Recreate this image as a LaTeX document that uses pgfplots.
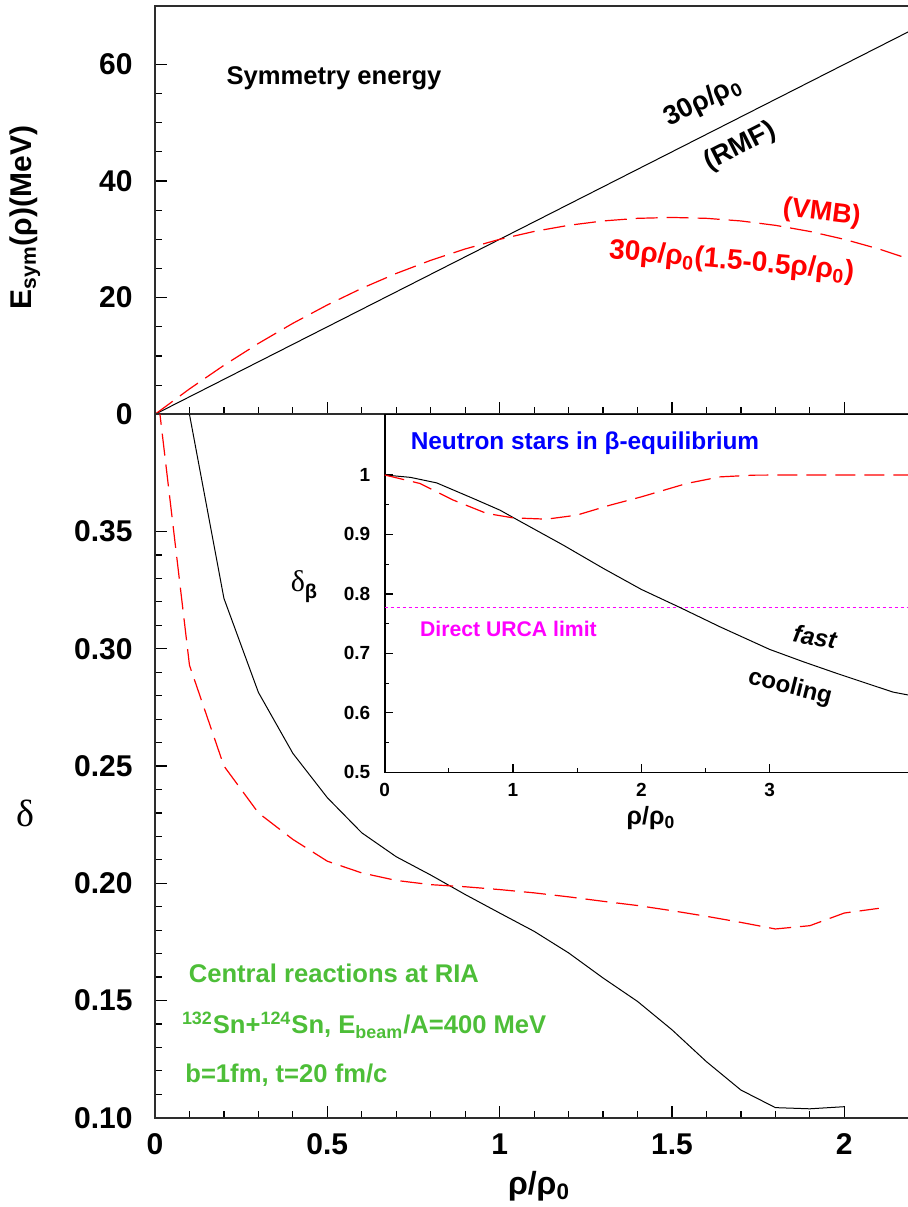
\documentclass[border=0pt]{standalone}
\usepackage{pgfplots}
\pgfplotsset{compat=1.18}
\usepackage{fontspec}
\setmainfont{Liberation Sans}
\newfontfamily\serif{Liberation Serif}
\definecolor{mygreen}{RGB}{77,190,56}
\definecolor{mymag}{RGB}{255,0,255}
\definecolor{myblue}{RGB}{0,0,255}
\definecolor{myred}{RGB}{255,0,0}
\definecolor{axgray}{RGB}{45,45,45}
\newcommand{\fs}[1]{\fontsize{#1}{#1}\selectfont}
\pgfplotsset{
  common/.style={
    scale only axis, anchor=south west,
    tick pos=left, tick align=inside,
    tick style={black, line width=0.6pt},
    axis line style={line width=1pt, draw=axgray},
    /pgf/number format/assume math mode=true,
  },
  main/.style={
    common,
    major tick length=6pt, minor tick length=3.5pt,
    tick label style={font=\bfseries\fs{15}},
    yticklabel style={inner sep=0pt, xshift=-11pt},
    xticklabel style={inner sep=0pt, yshift=-7.8pt},
  },
  reddash/.style={myred, line width=0.6pt, dash pattern=on 11pt off 4.5pt},
  blk/.style={black, line width=0.5pt},
}
\begin{document}
\begin{tikzpicture}
\path[use as bounding box] (0pt,0pt) rectangle (454pt,-603.5pt);

% ---------------- top panel ----------------
\begin{axis}[main,
  width=378pt, height=204.15pt, at={(77.5pt,-207.15pt)},
  xmin=0, xmax=2.1935, ymin=0, ymax=70,
  xtick={0,0.5,1,1.5,2}, xticklabels={}, minor x tick num=4,
  ytick={0,20,40,60}, yticklabels={0,20,40,60}, minor y tick num=3,
]
\addplot[blk] coordinates {(0,0) (0.5,15) (1,30) (1.5,45) (2,60) (2.2,66)};
\addplot[reddash] coordinates {
(0,0) (0.1,4.35) (0.2,8.4) (0.3,12.15) (0.4,15.6) (0.5,18.75) (0.6,21.6)
(0.7,24.15) (0.8,26.4) (0.9,28.35) (1.0,30) (1.1,31.35) (1.2,32.4)
(1.3,33.15) (1.4,33.6) (1.5,33.75) (1.6,33.6) (1.7,33.15) (1.8,32.4)
(1.9,31.35) (2.0,30) (2.1,28.35) (2.2,26.4)};
\end{axis}

% ---------------- bottom panel ----------------
\begin{axis}[main,
  width=378pt, height=351.7pt, at={(77.5pt,-558.85pt)},
  xmin=0, xmax=2.1935, ymin=0.10, ymax=0.40,
  xtick={0,0.5,1,1.5,2}, xticklabels={0,0.5,1,1.5,2}, minor x tick num=4,
  ytick={0.10,0.15,0.20,0.25,0.30,0.35},
  yticklabels={0.10,0.15,0.20,0.25,0.30,0.35}, minor y tick num=4,
]
\addplot[blk] coordinates {
(0.1,0.400) (0.2,0.3215) (0.3,0.2814) (0.4,0.2554) (0.5,0.2365) (0.6,0.2215)
(0.7,0.2113) (0.8,0.2035) (0.9,0.1952) (1.0,0.1873) (1.1,0.1795) (1.2,0.1703)
(1.3,0.1596) (1.4,0.1496) (1.5,0.1375) (1.6,0.1239) (1.7,0.1118) (1.8,0.1043)
(1.9,0.1038) (2.0,0.1047)};
\addplot[reddash] coordinates {
(0.0,0.418) (0.1,0.2930) (0.2,0.2500) (0.3,0.2300) (0.4,0.2187) (0.5,0.2094)
(0.6,0.2044) (0.7,0.2012) (0.8,0.1994) (0.9,0.1985) (1.0,0.1973) (1.1,0.1959)
(1.2,0.1942) (1.3,0.1923) (1.4,0.1905) (1.5,0.1883) (1.6,0.1859) (1.7,0.1833)
(1.8,0.1805) (1.9,0.1819) (2.0,0.1873) (2.1,0.1893)};
\end{axis}

% ---------------- inset ----------------
\begin{axis}[common,
  width=263.15pt, height=179pt, at={(192.35pt,-386.15pt)},
  xmin=0, xmax=4.102, ymin=0.5, ymax=1.102,
  major tick length=4pt, minor tick length=2pt,
  tick label style={font=\bfseries\fs{9.5}},
  yticklabel style={inner sep=0pt, xshift=-7pt},
  xticklabel style={inner sep=0pt, yshift=-5.2pt},
  xtick={0,1,2,3}, xticklabels={0,1,2,3}, minor x tick num=1,
  ytick={0.5,0.6,0.7,0.8,0.9,1.0}, yticklabels={0.5,0.6,0.7,0.8,0.9,1},
  minor y tick num=1,
  axis line style={line width=0.8pt, draw=black},
]
\addplot[mymag, line width=0.5pt, dash pattern=on 1.5pt off 1.5pt] coordinates {(0,0.777) (4.2,0.777)};
\addplot[blk] coordinates {
(0,1.0) (0.2,0.996) (0.405,0.9867) (0.69,0.9605) (0.899,0.9408) (1.0,0.9286)
(1.392,0.882) (1.704,0.8429) (2.0,0.8076) (2.30,0.7773) (2.613,0.7447)
(3.0,0.7067) (3.263,0.6859) (3.523,0.6664) (3.96,0.635) (4.2,0.625)};
\addplot[myred, line width=0.6pt, dash pattern=on 10pt off 4.5pt] coordinates {
(0,1.0) (0.275,0.9857) (0.535,0.9577) (0.795,0.9353) (1.0,0.9279) (1.262,0.9257)
(1.496,0.9324) (1.756,0.9492) (2.0,0.9632) (2.354,0.9857) (2.613,0.9968)
(2.873,0.9997) (3.2,1.0) (4.2,1.0)};
\end{axis}

% ---------------- texts ----------------
\node[font=\bfseries\fs{12.8}] at (167pt,-39pt) {Symmetry energy};
\node[font=\bfseries\fs{13.5}, rotate=27, inner sep=0pt] at (351.5pt,-50.85pt) {30ρ/ρ\textsubscript{0}};
\node[font=\bfseries\fs{13.5}, rotate=27, inner sep=0pt] at (370pt,-73.3pt) {(RMF)};
\node[font=\bfseries\fs{13.5}, myred, rotate=-7, inner sep=0pt] at (410.85pt,-106.65pt) {(VMB)};
\node[font=\bfseries\fs{14}, myred, rotate=-5, inner sep=0pt] at (365.85pt,-131pt) {30ρ/ρ\textsubscript{0}(1.5-0.5ρ/ρ\textsubscript{0})};

\node[font=\bfseries\fs{15}, rotate=90] at (12.5pt,-108.75pt) {E\textsubscript{sym}(ρ)(MeV)};
\node[font=\serif\fs{19}] at (12.75pt,-406.75pt) {δ};
\node[font=\bfseries\fs{16}] at (269.5pt,-593pt) {ρ/ρ\textsubscript{0}};

\node[font=\bfseries\fs{12.2}, myblue] at (292.5pt,-221.35pt) {Neutron stars in β-equilibrium};
\node at (152pt,-293.35pt) {{\serif\fs{15}δ}{\bfseries\fs{10}\raisebox{-3.5pt}{β}}};
\node[font=\bfseries\fs{10.6}, mymag] at (254.2pt,-314.7pt) {Direct URCA limit};
\node[font=\bfseries\itshape\fs{12.2}, rotate=-10, inner sep=0pt] at (407.5pt,-318.5pt) {fast};
\node[font=\bfseries\fs{12}, rotate=-14, inner sep=0pt] at (395pt,-344pt) {cooling};
\node[font=\bfseries\fs{12.5}] at (325.5pt,-409pt) {ρ/ρ\textsubscript{0}};

\node[font=\bfseries\fs{12.8}, mygreen, anchor=base west, inner sep=0pt] at (94.2pt,-491.35pt) {Central reactions at RIA};
\node[font=\bfseries\fs{12.8}, mygreen, anchor=base west, inner sep=0pt] at (90.8pt,-516.65pt) {\textsuperscript{132}Sn+\textsuperscript{124}Sn, E\textsubscript{beam}/A=400 MeV};
\node[font=\bfseries\fs{12.8}, mygreen, anchor=base west, inner sep=0pt] at (92.5pt,-541.35pt) {b=1fm, t=20 fm/c};
\end{tikzpicture}
\end{document}
